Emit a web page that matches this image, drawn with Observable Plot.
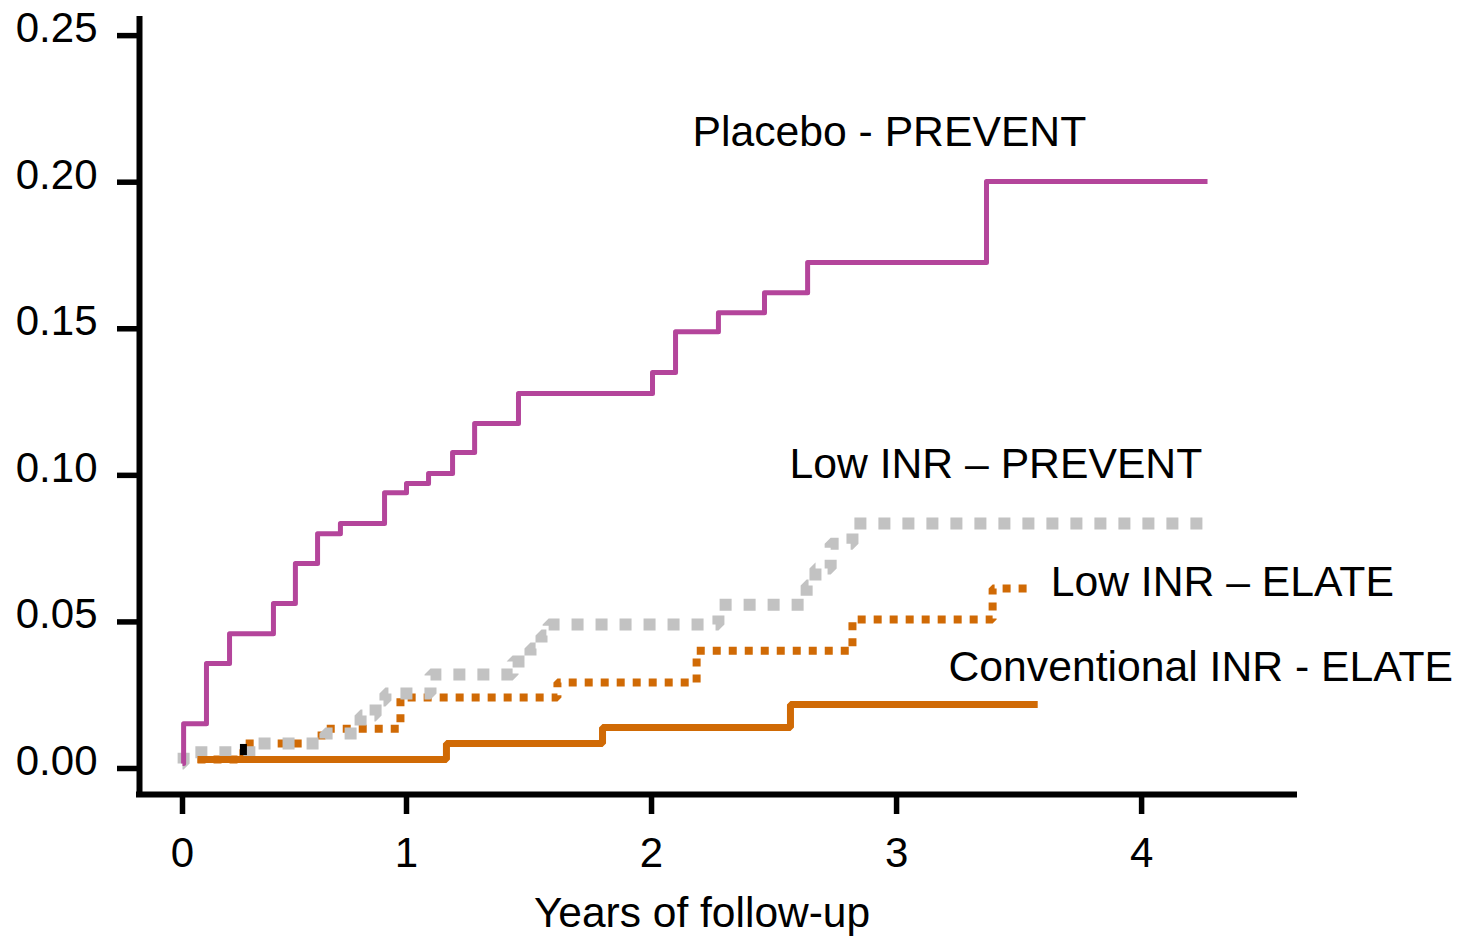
<!DOCTYPE html>
<html>
<head>
<meta charset="utf-8">
<script src="https://cdn.jsdelivr.net/npm/d3@7"></script>
<script src="https://cdn.jsdelivr.net/npm/@observablehq/plot@0.6"></script>
<style>
  html, body { margin: 0; padding: 0; background: #fff; }
  #chart svg { display: block; }
</style>
</head>
<body>
<div id="chart"></div>
<script>
// Cumulative incidence (Kaplan–Meier style step curves), years of follow-up
const placeboYears = [0, 0.005, 0.107, 0.210, 0.406, 0.504, 0.603, 0.705, 0.902, 1.000, 1.090, 1.188, 1.278, 1.457, 2.004, 2.098, 2.273, 2.461, 2.637, 3.367, 4.269];
const placeboRisk  = [0.0017, 0.0153, 0.0358, 0.0460, 0.0563, 0.0699, 0.0801, 0.0836, 0.0941, 0.0972, 0.1006, 0.1078, 0.1177, 0.1279, 0.1351, 0.1490, 0.1555, 0.1623, 0.1726, 0.2002, 0.2002];

const lowPreventYears = [0, 0.005, 0.326, 0.638, 0.795, 0.862, 0.906, 1.098, 1.433, 1.506, 1.551, 1.580, 2.273, 2.633, 2.669, 2.731, 2.820, 4.261];
const lowPreventRisk  = [0.0017, 0.0055, 0.0085, 0.0119, 0.0181, 0.0232, 0.0256, 0.0321, 0.0365, 0.0409, 0.0454, 0.0491, 0.0559, 0.0624, 0.0682, 0.0767, 0.0836, 0.0836];

const lowElateYears = [0.067, 0.272, 0.621, 0.973, 1.616, 2.184, 2.820, 3.392, 3.539];
const lowElateRisk  = [0.0031, 0.0085, 0.0136, 0.0242, 0.0293, 0.0402, 0.0508, 0.0614, 0.0614];

const convElateYears = [0.067, 1.163, 1.800, 2.567, 3.576];
const convElateRisk  = [0.0031, 0.0085, 0.0140, 0.0218, 0.0218];

// short censoring tick near the start
const censorYears = [0.272];
const censorLow   = [0.0044];
const censorHigh  = [0.0082];

const seriesLabels = ["Placebo - PREVENT", "Low INR – PREVENT", "Low INR – ELATE", "Conventional INR - ELATE"];
const labelYears   = [2.167, 2.563, 3.629, 3.212];
const labelRisk    = [0.2125, 0.0992, 0.0587, 0.0300];

const xTicks = [0, 1, 2, 3, 4];
const yTicks = [0, 0.05, 0.10, 0.15, 0.20, 0.25];
const xTitle = "Years of follow-up";

const toRows = (years, risk) => years.map((t, i) => ({t, v: risk[i]}));
const placebo = toRows(placeboYears, placeboRisk);
const lowPrevent = toRows(lowPreventYears, lowPreventRisk);
const lowElate = toRows(lowElateYears, lowElateRisk);
const convElate = toRows(convElateYears, convElateRisk);
const censor = censorYears.map((t, i) => ({t, lo: censorLow[i], hi: censorHigh[i]}));
const labels = seriesLabels.map((text, i) => ({text, t: labelYears[i], v: labelRisk[i]}));

const W = 1462, H = 936;
const mLeft = 139, mRight = 168, mTop = 19, mBottom = 142;
// axes sit slightly outside the data: the time axis is piecewise (first year is compressed)
const xDomain = [-0.192, 0, 1, 4.624];
const xRange = [mLeft, 182, 406, W - mRight];
const yDomain = [-0.00887, 0.2555];

const magenta = "#b4459b";
const orange = "#d06a05";
const gray = "#c2c2c2";
const font = "'Liberation Sans', Arial, Helvetica, sans-serif";

const chart = Plot.plot({
  width: W,
  height: H,
  marginLeft: mLeft,
  marginRight: mRight,
  marginTop: mTop,
  marginBottom: mBottom,
  style: {fontFamily: font, fontSize: "42px", color: "#000", background: "#fff", overflow: "visible"},
  x: {type: "linear", domain: xDomain, range: xRange, label: null},
  y: {type: "linear", domain: yDomain, label: null},
  marks: [
    // curves
    Plot.line(lowElate, {x: "t", y: "v", curve: "step-after", stroke: orange, strokeWidth: 8, strokeDasharray: "8 8", strokeLinecap: "butt", strokeLinejoin: "miter"}),
    Plot.line(lowPrevent, {x: "t", y: "v", curve: "step-after", stroke: gray, strokeWidth: 12, strokeDasharray: "12 12", strokeLinecap: "butt", strokeLinejoin: "miter"}),
    Plot.line(convElate, {x: "t", y: "v", curve: "step-after", stroke: orange, strokeWidth: 7, strokeLinecap: "butt", strokeLinejoin: "miter"}),
    Plot.line(placebo, {x: "t", y: "v", curve: "step-after", stroke: magenta, strokeWidth: 5, strokeLinecap: "butt", strokeLinejoin: "round"}),
    Plot.ruleX(censor, {x: "t", y1: "lo", y2: "hi", stroke: "#000", strokeWidth: 7}),

    // axis lines
    Plot.ruleX([xDomain[0]], {stroke: "#000", strokeWidth: 6, strokeLinecap: "square"}),
    Plot.ruleY([yDomain[0]], {stroke: "#000", strokeWidth: 6, strokeLinecap: "square"}),

    // y axis: ticks, then labels
    Plot.axisY(yTicks, {anchor: "left", tickSize: 22, strokeWidth: 5.5, fill: "none", label: null}),
    Plot.axisY(yTicks, {anchor: "left", tickSize: 0, tickPadding: 42, dy: -7, fontSize: 42, tickFormat: d3.format(".2f"), fill: "#000", label: null}),

    // x axis: ticks, then labels
    Plot.axisX(xTicks, {anchor: "bottom", tickSize: 20, strokeWidth: 5.5, fill: "none", label: null}),
    Plot.axisX(xTicks, {anchor: "bottom", tickSize: 0, tickPadding: 43, fontSize: 42, tickFormat: d3.format("d"), fill: "#000", label: null}),

    Plot.text([xTitle], {frameAnchor: "bottom", lineAnchor: "bottom", dx: -15, dy: 132, fontSize: 42.5, fill: "#000"}),

    // series labels
    Plot.text(labels, {x: "t", y: "v", text: "text", textAnchor: "start", lineAnchor: "bottom", fontSize: 42.7, fill: "#000"})
  ]
});

document.getElementById("chart").appendChild(chart);
</script>
</body>
</html>
